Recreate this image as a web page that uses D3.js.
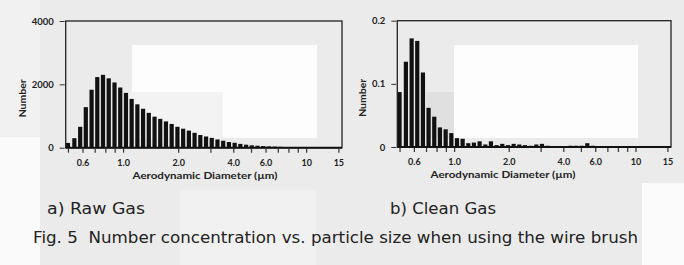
<!DOCTYPE html>
<html>
<head>
<meta charset="utf-8">
<script src="https://cdn.jsdelivr.net/npm/d3@7"></script>
<style>
  body { margin: 0; background: #ebebeb; }
  svg { display: block; }
</style>
</head>
<body>
<div id="fig"></div>
<script>
// APS channel midpoints (um)
var diameters = [0.5, 0.542, 0.583, 0.626, 0.673, 0.723, 0.777, 0.835, 0.898, 0.965,
  1.037, 1.114, 1.197, 1.286, 1.382, 1.486, 1.596, 1.715, 1.843, 1.981,
  2.129, 2.288, 2.458, 2.642, 2.839, 3.051, 3.278, 3.523, 3.786, 4.068,
  4.371, 4.698, 5.048, 5.425, 5.829, 6.264, 6.732, 7.234, 7.774, 8.354,
  8.977, 9.647, 10.37, 11.14, 11.97, 12.86, 13.82, 14.86];

// a) raw gas
var rawGas = [150, 300, 660, 1280, 1830, 2230, 2300, 2190, 2060, 1900,
  1730, 1540, 1370, 1230, 1100, 980, 910, 830, 750, 660,
  600, 540, 470, 400, 355, 310, 260, 220, 180, 155,
  120, 95, 75, 62, 52, 42, 35, 28, 22, 18,
  14, 11, 9, 7, 0, 0, 0, 0];

// b) clean gas
var cleanGas = [0.087, 0.135, 0.172, 0.168, 0.118, 0.062, 0.048, 0.031, 0.028, 0.022,
  0.014, 0.013, 0.006, 0.007, 0.009, 0.004, 0.009, 0.003, 0.005, 0.003,
  0.005, 0.004, 0.003, 0.002, 0.004, 0.005, 0.002, 0.001, 0.001, 0.001,
  0.002, 0.002, 0.002, 0.006, 0.002, 0.001, 0.001, 0.001, 0.001, 0.001,
  0, 0.001, 0.001, 0, 0.001, 0.001, 0.001, 0];

var xMinorTicks = [0.5, 0.6, 0.7, 0.8, 0.9, 1, 2, 3, 4, 5, 6, 7, 8, 9, 10, 15];
var xLabelTicks = [0.6, 1, 2, 4, 6, 10, 15];
var xLabelText = ["0.6", "1.0", "2.0", "4.0", "6.0", "10", "15"];
var rawTicks = [0, 2000, 4000];
var rawTickText = ["0", "2000", "4000"];
var cleanTicks = [0, 0.1, 0.2];
var cleanTickText = ["0", "0.1", "0.2"];

var W = 684, H = 265;
var svg = d3.select("#fig").append("svg").attr("width", W).attr("height", H);

// scanned paper: grey page with lighter/darker blocks
svg.append("rect").attr("width", W).attr("height", H).attr("fill", "#ebebeb");
var paper = [
    [0, 0, 40, 137, "#f1f1f1"],
    [0, 137, 40, 128, "#fafafa"],
    [132, 45, 185, 93, "#fdfdfd"],
    [130, 92, 93, 46, "#f3f3f3"],
    [454, 45, 184, 93, "#fdfdfd"],
    [426, 92, 28, 46, "#e0e0e0"],
    [180, 190, 136, 75, "#f1f1f1"],
    [642, 183, 42, 82, "#fbfbfb"]
];
svg.selectAll("rect.paper").data(paper).enter().append("rect")
    .attr("class", "paper")
    .attr("x", function(d) { return d[0]; }).attr("y", function(d) { return d[1]; })
    .attr("width", function(d) { return d[2]; }).attr("height", function(d) { return d[3]; })
    .attr("fill", function(d) { return d[4]; });

var tickFont = "Lato, 'DejaVu Sans', sans-serif";

function drawPanel(p) {
    var x = d3.scaleLog().domain([0.486, 15.7]).range([p.left, p.right]);
    var y = d3.scaleLinear().domain([0, p.yMax]).range([p.bottom, p.top]);
    var g = svg.append("g");

    // bars
    g.selectAll("rect.bar")
        .data(p.values)
        .enter().append("rect")
        .attr("class", "bar")
        .attr("x", function(d, i) { return x(diameters[i]) - 2.1; })
        .attr("y", function(d) { return y(d); })
        .attr("width", 4.2)
        .attr("height", function(d) { return p.bottom - y(d); })
        .attr("fill", "#111");

    // frame
    g.append("rect")
        .attr("x", p.left).attr("y", p.top)
        .attr("width", p.right - p.left).attr("height", p.bottom - p.top)
        .attr("fill", "none").attr("stroke", "#222").attr("stroke-width", 1.3);
    g.append("line")
        .attr("x1", p.left).attr("x2", p.right)
        .attr("y1", p.bottom).attr("y2", p.bottom)
        .attr("stroke", "#111").attr("stroke-width", 2);

    // y axis
    var ya = g.append("g")
        .attr("transform", "translate(" + (p.left - 1) + ",0)")
        .call(d3.axisLeft(y).tickValues(p.yTicks).tickSize(5).tickPadding(6)
            .tickFormat(function(d, i) { return p.yTickText[i]; }));
    ya.select(".domain").remove();
    ya.selectAll("line").attr("stroke", "#333");
    ya.selectAll("text").attr("font-family", tickFont).attr("font-weight", "bold")
        .attr("font-size", "9.5px").attr("fill", "#222");

    // x axis minor ticks
    var xa = g.append("g")
        .attr("transform", "translate(0," + (p.bottom + 1) + ")")
        .call(d3.axisBottom(x).tickValues(xMinorTicks).tickSize(4).tickFormat(""));
    xa.select(".domain").remove();
    xa.selectAll("line").attr("stroke", "#333").attr("stroke-width", 1.2);

    // x axis labels
    var xl = g.append("g")
        .attr("transform", "translate(0," + p.bottom + ")")
        .call(d3.axisBottom(x).tickValues(xLabelTicks).tickSize(0).tickPadding(12)
            .tickFormat(function(d, i) { return xLabelText[i]; }));
    xl.select(".domain").remove();
    xl.selectAll("text").attr("font-family", tickFont).attr("font-weight", "bold")
        .attr("font-size", "9px").attr("fill", "#222");

    g.append("text")
        .attr("x", p.xlabX).attr("y", p.bottom + 31)
        .attr("text-anchor", "middle")
        .attr("font-family", tickFont).attr("font-weight", "bold")
        .attr("font-size", "9.5px").attr("fill", "#222")
        .attr("textLength", 145).attr("lengthAdjust", "spacingAndGlyphs")
        .text("Aerodynamic Diameter (\u00b5m)");

    g.append("text")
        .attr("transform", "translate(" + p.ylabX + "," + ((p.top + p.bottom) / 2 + 14) + ")rotate(-90)")
        .attr("text-anchor", "middle")
        .attr("font-family", tickFont).attr("font-weight", "bold")
        .attr("font-size", "9.5px").attr("fill", "#222")
        .attr("textLength", 38).attr("lengthAdjust", "spacingAndGlyphs")
        .text("Number");
}

drawPanel({left: 65.7, right: 342, top: 21, bottom: 147.7, yMax: 4000,
    yTicks: rawTicks, yTickText: rawTickText, values: rawGas, ylabX: 26, xlabX: 205});
drawPanel({left: 397.3, right: 671, top: 20.7, bottom: 147, yMax: 0.2,
    yTicks: cleanTicks, yTickText: cleanTickText, values: cleanGas, ylabX: 366, xlabX: 503});

var capFont = "'DejaVu Sans', sans-serif";
svg.append("text").attr("x", 47).attr("y", 214)
    .attr("font-family", capFont).attr("font-size", "16px").attr("fill", "#222")
    .attr("textLength", 98).attr("lengthAdjust", "spacingAndGlyphs")
    .text("a) Raw Gas");
svg.append("text").attr("x", 390).attr("y", 214)
    .attr("font-family", capFont).attr("font-size", "16px").attr("fill", "#222")
    .attr("textLength", 106).attr("lengthAdjust", "spacingAndGlyphs")
    .text("b) Clean Gas");
svg.append("text").attr("x", 33).attr("y", 243)
    .attr("font-family", capFont).attr("font-size", "16px").attr("fill", "#222")
    .attr("textLength", 605).attr("lengthAdjust", "spacingAndGlyphs")
    .attr("xml:space", "preserve")
    .text("Fig. 5  Number concentration vs. particle size when using the wire brush");
</script>
</body>
</html>
